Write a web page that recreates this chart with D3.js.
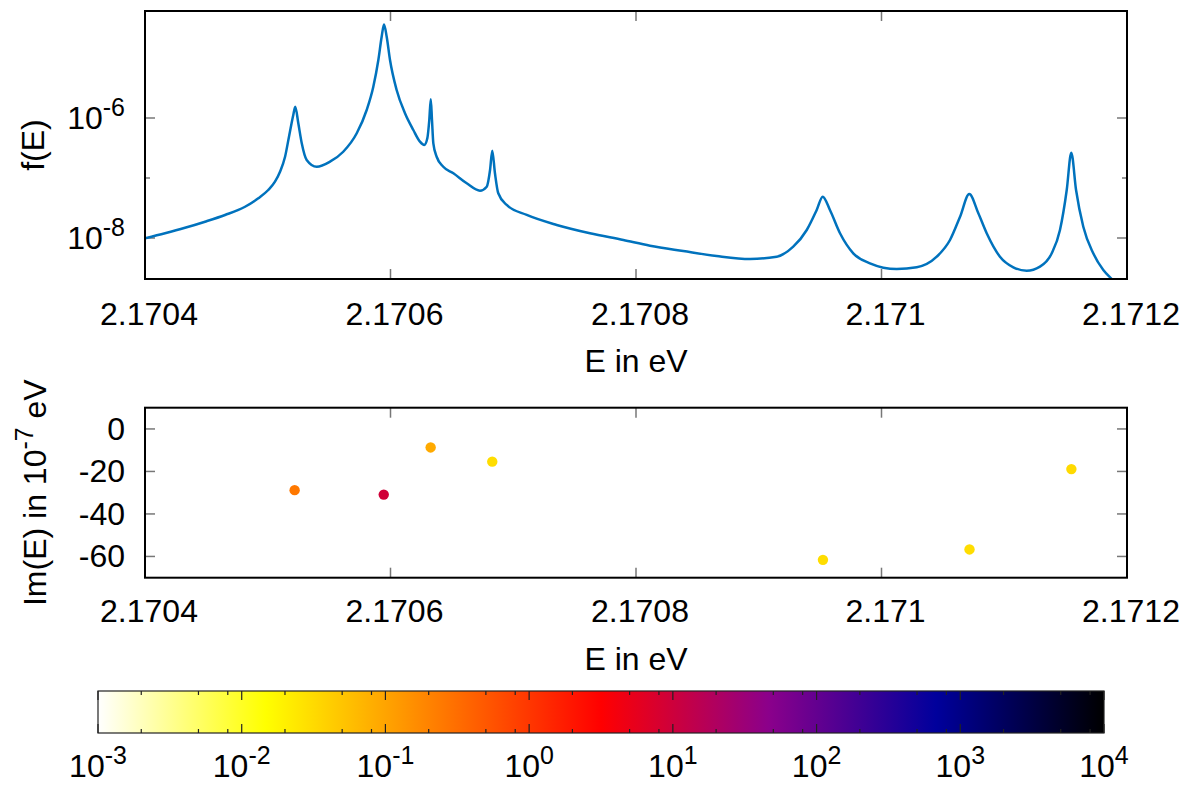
<!DOCTYPE html>
<html><head><meta charset="utf-8">
<script src="https://cdn.jsdelivr.net/npm/d3@7"></script>
<style>
body{margin:0;background:#fff}
text{font-family:"Liberation Sans",Arial,Helvetica,sans-serif;fill:#000}
</style>
</head><body>
<svg id="chart" width="1189" height="785"></svg>
<script>
// ---- data ----
const curveE = [2.1704000,2.1704163,2.1704326,2.1704489,2.1704652,2.1704815,2.1704923,2.1705004,2.1705059,2.1705100,
  2.1705141,2.1705173,2.1705208,2.1705224,2.1705249,2.1705277,2.1705317,2.1705399,2.1705507,2.1705615,
  2.1705725,2.1705806,2.1705860,2.1705901,2.1705928,2.1705947,2.1705969,2.1705996,2.1706050,2.1706118,
  2.1706186,2.1706240,2.1706275,2.1706300,2.1706316,2.1706328,2.1706338,2.1706349,2.1706376,2.1706430,
  2.1706512,2.1706621,2.1706729,2.1706784,2.1706811,2.1706829,2.1706851,2.1706878,2.1706947,2.1707110,
  2.1707354,2.1707625,2.1707897,2.1708114,2.1708385,2.1708657,2.1708929,2.1709146,2.1709281,2.1709391,
  2.1709472,2.1709521,2.1709580,2.1709662,2.1709770,2.1709906,2.1710124,2.1710287,2.1710450,2.1710558,
  2.1710640,2.1710715,2.1710789,2.1710857,2.1710965,2.1711074,2.1711183,2.1711291,2.1711387,2.1711454,
  2.1711509,2.1711546,2.1711585,2.1711644,2.1711725,2.1711807,2.1711870,2.1711927];
const curveF = [9.89e-9,1.20e-8,1.48e-8,1.87e-8,2.42e-8,3.32e-8,4.59e-8,6.31e-8,8.68e-8,1.27e-7,
  2.26e-7,4.88e-7,1.12e-6,1.54e-6,8.16e-7,3.79e-7,2.00e-7,1.54e-7,1.87e-7,2.74e-7,
  5.56e-7,1.36e-6,3.32e-6,9.26e-6,2.26e-5,3.62e-5,2.26e-5,9.26e-6,2.93e-6,1.20e-6,
  6.31e-7,4.03e-7,3.55e-7,4.59e-7,9.26e-7,2.05e-6,9.26e-7,3.79e-7,2.26e-7,1.54e-7,
  1.20e-7,8.16e-8,6.14e-8,7.16e-8,1.36e-7,2.85e-7,1.20e-7,5.56e-8,3.55e-8,2.42e-8,
  1.65e-8,1.20e-8,9.26e-9,7.44e-9,6.07e-9,5.01e-9,4.47e-9,4.88e-9,7.16e-9,1.36e-8,
  2.93e-8,4.88e-8,2.93e-8,1.20e-8,5.56e-9,3.79e-9,3.04e-9,3.25e-9,4.88e-9,9.26e-9,
  2.26e-8,5.41e-8,2.58e-8,1.20e-8,4.88e-9,3.25e-9,2.85e-9,3.33e-9,5.56e-9,1.36e-8,
  6.31e-8,2.64e-7,6.31e-8,1.54e-8,5.56e-9,2.93e-9,2.13e-9,1.65e-9];

const resE      = [2.1705219,2.1705945,2.1706327,2.1706829,2.1709523,2.1710717,2.1711547];
const resIm     = [-28.8,-30.9,-8.7,-15.4,-61.6,-56.7,-18.9];
const resWeight = [0.25,9.3,0.088,0.030,0.030,0.030,0.032];

const xTicks      = [2.1704,2.1706,2.1708,2.1710,2.1712];
const xTickLabels = ["2.1704","2.1706","2.1708","2.171","2.1712"];
const fMajorTicks = [1e-6,1e-8];
const fMajorExp   = ["-6","-8"];
const fMinorTicks = [1e-7];
const imTicks     = [0,-20,-40,-60];
const imTickLabels= ["0","-20","-40","-60"];
const cbTicks     = [1e-3,1e-2,1e-1,1e0,1e1,1e2,1e3,1e4];
const cbTickExp   = ["-3","-2","-1","0","1","2","3","4"];
const cbMinorMult = [2,5,8];
const paletteLog    = [-3,-1.8333,0.5,1.6667,2.8333,4];
const paletteColors = ["#ffffff","#ffff00","#ff0000","#8b008b","#00009c","#000000"];

// ---- layout ----
const svg = d3.select("#chart");
const FS = 32;
const L = 145, R = 1127;
const top1 = 11, bot1 = 279;
const top2 = 407.7, bot2 = 577.7;
const cbL = 98, cbR = 1104, cbT = 691, cbB = 733;
const tickCol = "#777";

const x = d3.scaleLinear().domain([2.1704,2.1712]).range([L,R]);
const yF = d3.scaleLog().domain([Math.pow(10,-8.6833),Math.pow(10,-4.2167)]).range([bot1,top1]);
const yI = d3.scaleLinear().domain([-70,10]).range([bot2,top2]);
const cbX = d3.scaleLog().domain([1e-3,1e4]).range([cbL,cbR]);
const palScale = d3.scaleLinear().domain(paletteLog).range(paletteColors).interpolate(d3.interpolateRgb).clamp(true);
const colorOf = v => palScale(Math.log10(v));

function supText(g, xx, yy, base, exp, anchor, fs){
  const t = g.append("text").attr("x",xx).attr("y",yy).attr("text-anchor",anchor).attr("font-size",fs);
  t.append("tspan").text(base);
  t.append("tspan").attr("dy",-0.42*fs).attr("font-size",fs*0.78).text(exp);
  return t;
}

// ---------- top panel ----------
const g1 = svg.append("g");
svg.append("defs").append("clipPath").attr("id","clip1")
  .append("rect").attr("x",L).attr("y",top1).attr("width",R-L).attr("height",bot1-top1);

xTicks.forEach(t=>{
  g1.append("line").attr("x1",x(t)).attr("x2",x(t)).attr("y1",bot1).attr("y2",bot1-10).attr("stroke",tickCol).attr("stroke-width",1.5);
  g1.append("line").attr("x1",x(t)).attr("x2",x(t)).attr("y1",top1).attr("y2",top1+10).attr("stroke",tickCol).attr("stroke-width",1.5);
});
fMajorTicks.forEach(t=>{
  g1.append("line").attr("x1",L).attr("x2",L+10).attr("y1",yF(t)).attr("y2",yF(t)).attr("stroke",tickCol).attr("stroke-width",1.5);
  g1.append("line").attr("x1",R).attr("x2",R-10).attr("y1",yF(t)).attr("y2",yF(t)).attr("stroke",tickCol).attr("stroke-width",1.5);
});
fMinorTicks.forEach(t=>{
  g1.append("line").attr("x1",L).attr("x2",L+5).attr("y1",yF(t)).attr("y2",yF(t)).attr("stroke",tickCol).attr("stroke-width",1.5);
  g1.append("line").attr("x1",R).attr("x2",R-5).attr("y1",yF(t)).attr("y2",yF(t)).attr("stroke",tickCol).attr("stroke-width",1.5);
});

const line = d3.line().x((d,i)=>x(curveE[i])).y((d,i)=>yF(curveF[i])).curve(d3.curveMonotoneX);
g1.append("path").datum(curveE).attr("d",line).attr("fill","none")
  .attr("stroke","#0072bd").attr("stroke-width",2.5).attr("stroke-linejoin","round").attr("clip-path","url(#clip1)");

g1.append("rect").attr("x",L).attr("y",top1).attr("width",R-L).attr("height",bot1-top1)
  .attr("fill","none").attr("stroke","#000").attr("stroke-width",2);

xTicks.forEach((t,i)=>{
  g1.append("text").attr("x",x(t)+4).attr("y",bot1+46).attr("text-anchor","middle").attr("font-size",FS).text(xTickLabels[i]);
});
fMajorTicks.forEach((t,i)=>{
  supText(g1, 125, yF(t)+11, "10", fMajorExp[i], "end", FS);
});
g1.append("text").attr("x",(L+R)/2).attr("y",bot1+93).attr("text-anchor","middle").attr("font-size",FS).text("E in eV");
g1.append("text").attr("transform",`translate(44,${(top1+bot1)/2}) rotate(-90)`).attr("text-anchor","middle").attr("font-size",FS).text("f(E)");

// ---------- bottom panel ----------
const g2 = svg.append("g");
xTicks.forEach(t=>{
  g2.append("line").attr("x1",x(t)).attr("x2",x(t)).attr("y1",bot2).attr("y2",bot2-10).attr("stroke",tickCol).attr("stroke-width",1.5);
  g2.append("line").attr("x1",x(t)).attr("x2",x(t)).attr("y1",top2).attr("y2",top2+10).attr("stroke",tickCol).attr("stroke-width",1.5);
});
imTicks.forEach(t=>{
  g2.append("line").attr("x1",L).attr("x2",L+10).attr("y1",yI(t)).attr("y2",yI(t)).attr("stroke",tickCol).attr("stroke-width",1.5);
  g2.append("line").attr("x1",R).attr("x2",R-10).attr("y1",yI(t)).attr("y2",yI(t)).attr("stroke",tickCol).attr("stroke-width",1.5);
});
g2.selectAll("circle.res").data(resE).enter().append("circle")
  .attr("cx",(d)=>x(d)).attr("cy",(d,i)=>yI(resIm[i])).attr("r",5.2)
  .attr("fill",(d,i)=>colorOf(resWeight[i]));
g2.append("rect").attr("x",L).attr("y",top2).attr("width",R-L).attr("height",bot2-top2)
  .attr("fill","none").attr("stroke","#000").attr("stroke-width",2);
xTicks.forEach((t,i)=>{
  g2.append("text").attr("x",x(t)+4).attr("y",bot2+44).attr("text-anchor","middle").attr("font-size",FS).text(xTickLabels[i]);
});
imTicks.forEach((t,i)=>{
  g2.append("text").attr("x",125).attr("y",yI(t)+11).attr("text-anchor","end").attr("font-size",FS).text(imTickLabels[i]);
});
g2.append("text").attr("x",(L+R)/2).attr("y",bot2+92).attr("text-anchor","middle").attr("font-size",FS).text("E in eV");
{
  const t = g2.append("text").attr("transform",`translate(46,${(top2+bot2)/2}) rotate(-90)`).attr("text-anchor","middle").attr("font-size",FS);
  t.append("tspan").text("Im(E) in 10");
  t.append("tspan").attr("dy",-0.42*FS).attr("font-size",FS*0.78).text("-7");
  t.append("tspan").attr("dy",0.42*FS).text(" eV");
}

// ---------- colorbar ----------
const g3 = svg.append("g");
const grad = svg.select("defs").append("linearGradient").attr("id","cbgrad")
  .attr("x1","0%").attr("x2","100%").attr("y1","0%").attr("y2","0%");
paletteLog.forEach((p,i)=>{
  grad.append("stop").attr("offset",((p+3)/7*100)+"%").attr("stop-color",paletteColors[i]);
});
g3.append("rect").attr("x",cbL).attr("y",cbT).attr("width",cbR-cbL).attr("height",cbB-cbT).attr("fill","url(#cbgrad)");
cbTicks.forEach((t,i)=>{
  g3.append("line").attr("x1",cbX(t)).attr("x2",cbX(t)).attr("y1",cbT).attr("y2",cbT+9).attr("stroke","#222").attr("stroke-width",1.2);
  g3.append("line").attr("x1",cbX(t)).attr("x2",cbX(t)).attr("y1",cbB).attr("y2",cbB-9).attr("stroke","#222").attr("stroke-width",1.2);
  if(t<1e4){
    cbMinorMult.forEach(m=>{
      const v=t*m;
      g3.append("line").attr("x1",cbX(v)).attr("x2",cbX(v)).attr("y1",cbT).attr("y2",cbT+4).attr("stroke","#222").attr("stroke-width",1.2);
      g3.append("line").attr("x1",cbX(v)).attr("x2",cbX(v)).attr("y1",cbB).attr("y2",cbB-4).attr("stroke","#222").attr("stroke-width",1.2);
    });
  }
  supText(g3, cbX(t), 777, "10", cbTickExp[i], "middle", FS);
});
g3.append("rect").attr("x",cbL).attr("y",cbT).attr("width",cbR-cbL).attr("height",cbB-cbT)
  .attr("fill","none").attr("stroke","#222").attr("stroke-width",1.2);
</script>
</body></html>
